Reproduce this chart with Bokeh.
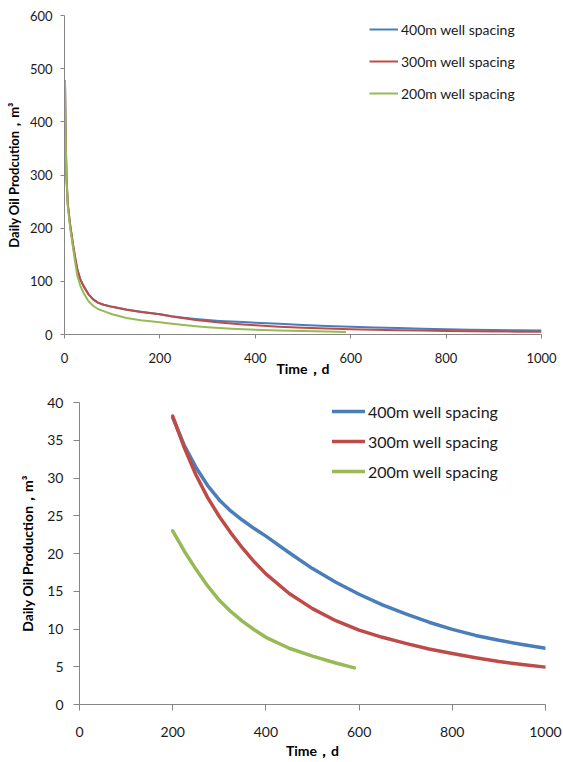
from bokeh.plotting import figure
from bokeh.layouts import column
from bokeh.models import Range1d, Legend, LegendItem, FixedTicker
from bokeh.embed import file_html
from bokeh.resources import INLINE

series_labels = ["400m well spacing", "300m well spacing", "200m well spacing"]
colors = ["#4A7EBB", "#BE4B48", "#98B954"]

x_ticks = [0, 200, 400, 600, 800, 1000]
top_y_ticks = [0, 100, 200, 300, 400, 500, 600]
bottom_y_ticks = [0, 5, 10, 15, 20, 25, 30, 35, 40]

# early decline (days 1-199)
t_early = [1, 2, 4, 7, 12, 18, 23, 27, 33, 40, 50, 60, 70, 82, 100, 130, 160]
oil_400_early = [478, 400, 300, 245, 205, 168, 141, 122, 104, 91, 76, 66, 60, 56, 52, 47, 43]
oil_300_early = [478, 400, 300, 245, 205, 168, 141, 122, 104, 91, 76, 66, 60, 56, 52, 46.5, 42.5]
oil_200_early = [478, 395, 295, 240, 200, 162, 132, 110, 92, 78, 63, 54, 48, 44, 38, 31, 27]

# later decline (day 200 onward)
t_late = [200, 225, 250, 275, 300, 325, 350, 375, 400, 450, 500, 550, 600,
          650, 700, 750, 800, 850, 900, 950, 1000]
oil_400_late = [38.0, 34.3, 31.4, 29.0, 27.1, 25.6, 24.4, 23.3, 22.3, 20.1, 18.0, 16.2, 14.6,
                13.2, 12.0, 10.9, 9.95, 9.15, 8.5, 7.95, 7.45]
oil_300_late = [38.2, 34.0, 30.4, 27.4, 24.9, 22.7, 20.7, 18.9, 17.3, 14.7, 12.7, 11.1, 9.85,
                8.9, 8.1, 7.35, 6.75, 6.2, 5.7, 5.3, 4.95]
t_late_200 = [200, 225, 250, 275, 300, 325, 350, 375, 400, 450, 500, 550, 590]
oil_200_late = [23.0, 20.3, 17.9, 15.7, 13.8, 12.3, 11.0, 9.9, 8.9, 7.45, 6.4, 5.5, 4.85]

FONT = "Lato"
AXIS_COLOR = "#868686"


def style_axes(p, y_ticks, tick_font, tick_out, y_standoff, y_label_standoff, x_standoff, x_label_standoff):
    p.grid.visible = False
    p.outline_line_color = None
    p.xaxis.ticker = FixedTicker(ticks=x_ticks)
    p.yaxis.ticker = FixedTicker(ticks=y_ticks)
    for ax in (p.xaxis, p.yaxis):
        ax.axis_line_color = AXIS_COLOR
        ax.major_tick_line_color = AXIS_COLOR
        ax.minor_tick_line_color = None
        ax.major_tick_in = 0
        ax.major_tick_out = tick_out
        ax.major_label_text_font = FONT
        ax.major_label_text_font_size = tick_font
        ax.major_label_text_color = "#1a1a1a"
        ax.axis_label_text_font = FONT
        ax.axis_label_text_font_style = "bold"
        ax.axis_label_text_color = "#000000"
    p.yaxis.major_label_standoff = y_standoff
    p.yaxis.axis_label_standoff = y_label_standoff
    p.xaxis.major_label_standoff = x_standoff
    p.xaxis.axis_label_standoff = x_label_standoff


# ---------------- top chart ----------------
p1 = figure(width=563, height=382, x_range=Range1d(0, 1000), y_range=Range1d(0, 600),
            output_backend="svg", toolbar_location=None,
            min_border_left=64, min_border_right=22, min_border_top=15, min_border_bottom=48)
style_axes(p1, top_y_ticks, "13px", 4, 8, 5, 14, -6)
p1.xaxis.axis_label = "Time，d"
p1.yaxis.axis_label = "Daily Oil Prodcution，m³"
p1.xaxis.axis_label_text_font_size = "14px"
p1.yaxis.axis_label_text_font_size = "13px"

top_series = [
    (t_early + t_late, oil_400_early + oil_400_late),
    (t_early + t_late, oil_300_early + oil_300_late),
    (t_early + t_late_200, oil_200_early + oil_200_late),
]
items1 = []
for (xs, ys), c, lab in zip(top_series, colors, series_labels):
    r = p1.line(xs, ys, line_color=c, line_width=2, line_join="round")
    items1.append(LegendItem(label=lab, renderers=[r]))
leg1 = Legend(items=items1, location=(305, 231), spacing=12, padding=0, margin=0,
              glyph_width=29, glyph_height=20, label_standoff=3,
              label_text_font=FONT, label_text_font_size="14px", label_text_color="#1a1a1a",
              background_fill_alpha=0, border_line_alpha=0)
p1.add_layout(leg1)

# ---------------- bottom chart ----------------
p2 = figure(width=563, height=380, x_range=Range1d(0, 1000), y_range=Range1d(0, 40),
            output_backend="svg", toolbar_location=None,
            min_border_left=79, min_border_right=18, min_border_top=20, min_border_bottom=58)
style_axes(p2, bottom_y_ticks, "14px", 6, 10, 8, 16, 2)
p2.xaxis.axis_label = "Time，d"
p2.yaxis.axis_label = "Daily Oil Production，m³"
p2.xaxis.axis_label_text_font_size = "14px"
p2.yaxis.axis_label_text_font_size = "14px"

bottom_series = [
    (t_late, oil_400_late),
    (t_late, oil_300_late),
    (t_late_200, oil_200_late),
]
items2 = []
for (xs, ys), c, lab in zip(bottom_series, colors, series_labels):
    r = p2.line(xs, ys, line_color=c, line_width=3.5, line_join="round", line_cap="round")
    items2.append(LegendItem(label=lab, renderers=[r]))
leg2 = Legend(items=items2, location=(253, 223), spacing=10, padding=0, margin=0,
              glyph_width=33, glyph_height=20, label_standoff=3,
              label_text_font=FONT, label_text_font_size="16px", label_text_color="#1a1a1a",
              background_fill_alpha=0, border_line_alpha=0)
p2.add_layout(leg2)

layout = column(column(p1), column(p2), spacing=0)
open("out.html", "w").write(file_html(layout, INLINE))
